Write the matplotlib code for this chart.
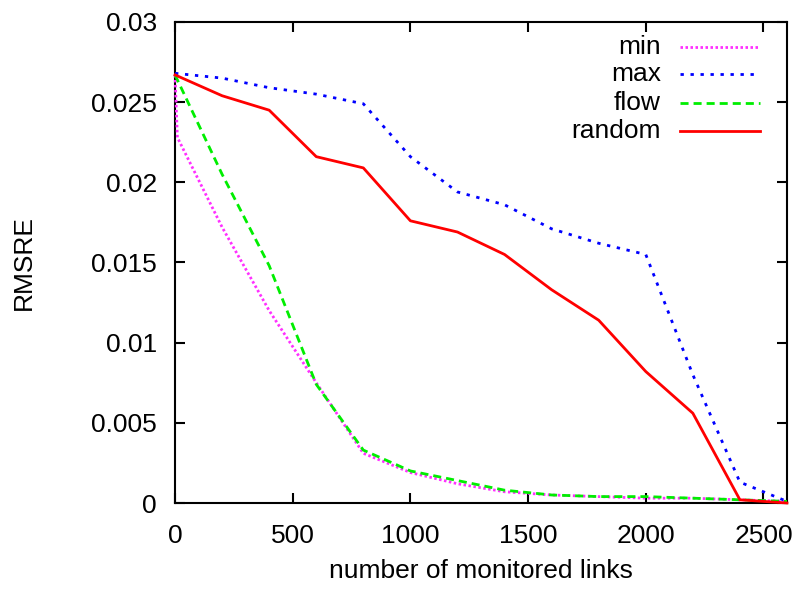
import matplotlib
matplotlib.use('Agg')
import matplotlib.pyplot as plt

plt.rcParams['font.family'] = ['Liberation Sans', 'DejaVu Sans']

# data
x_min = [0, 10, 200, 400, 600, 800, 1000, 1200, 1400, 1600, 1800, 2000, 2200, 2400, 2600]
y_min = [0.0267, 0.0228, 0.0172, 0.0120, 0.0075, 0.0031, 0.0019, 0.0012, 0.0007, 0.0005,
         0.0004, 0.0003, 0.0003, 0.0002, 0.0001]
x_all = [0, 200, 400, 600, 800, 1000, 1200, 1400, 1600, 1800, 2000, 2200, 2400, 2600]
y_max = [0.0268, 0.0265, 0.0259, 0.0255, 0.0249, 0.0216, 0.0194, 0.0186, 0.0171, 0.0162,
         0.0155, 0.0080, 0.0013, 0.0001]
y_flow = [0.0267, 0.0205, 0.0148, 0.0074, 0.0033, 0.0020, 0.0014, 0.0008, 0.0005, 0.0004,
          0.0004, 0.0003, 0.0002, 0.0001]
y_random = [0.0267, 0.0254, 0.0245, 0.0216, 0.0209, 0.0176, 0.0169, 0.0155, 0.0133, 0.0114,
            0.0082, 0.0056, 0.0002, 0.0000]

fs = 19

fig = plt.figure(figsize=(8.07, 5.91), dpi=100)
ax = fig.add_axes([0.2169, 0.1489, 0.9752 - 0.2169, 0.9628 - 0.1489])

styles = [
    ('min', x_min, y_min, '#ff30ff', (0, (0.9, 0.9))),
    ('max', x_all, y_max, '#0000ff', (0, (1.2, 2.4))),
    ('flow', x_all, y_flow, '#00ee00', (0, (2.9, 1.8))),
    ('random', x_all, y_random, '#ff0000', '-'),
]

leg_y = [0.948, 0.892, 0.832, 0.773]
for (label, xs, ys, col, ls), ly in zip(styles, leg_y):
    ax.plot(xs, ys, color=col, linestyle=ls, linewidth=2.0, clip_on=False, zorder=3)
    # gnuplot style key: text right aligned, sample to the right
    ax.text(0.794, ly, label, transform=ax.transAxes, ha='right', va='center', fontsize=fs)
    ax.plot([0.825, 0.956], [ly, ly], transform=ax.transAxes, color=col,
            linestyle=ls, linewidth=2.0)

ax.set_xlim(0, 2600)
ax.set_ylim(0, 0.03)
ax.set_xticks([0, 500, 1000, 1500, 2000, 2500])
ax.set_yticks([0, 0.005, 0.01, 0.015, 0.02, 0.025, 0.03])
ax.set_yticklabels(['0', '0.005', '0.01', '0.015', '0.02', '0.025', '0.03'])
ax.tick_params(direction='in', top=True, right=True, length=7, width=1.5,
               labelsize=fs)
ax.tick_params(axis='x', pad=15)
ax.tick_params(axis='y', pad=13)
for sp in ax.spines.values():
    sp.set_linewidth(1.5)

ax.set_xlabel('number of monitored links', fontsize=fs, labelpad=8)
ax.set_ylabel('RMSRE', fontsize=fs, labelpad=40)

fig.savefig('out.png', dpi=100)
